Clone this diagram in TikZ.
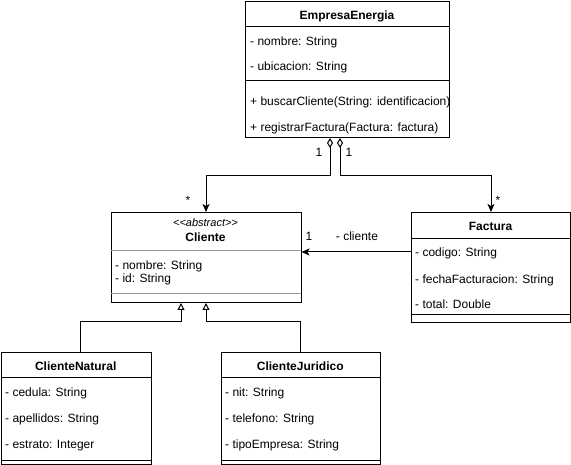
\documentclass[tikz,border=0pt]{standalone}
\usepackage{fontspec}
\setmainfont{Liberation Sans}
\usetikzlibrary{arrows.meta,calc}
\begin{document}
\begin{tikzpicture}[x=1pt,y=-1pt,
  cls/.style={draw, line width=1pt, anchor=north west, inner sep=0pt},
  ttl/.style={font=\bfseries\fontsize{12}{14}\selectfont, inner sep=0pt, text height=13.9pt, text depth=2.5pt},
  attr/.style={anchor=west, inner sep=0pt, font=\fontsize{12}{14}\selectfont, text height=13.9pt, text depth=2.5pt},
  lbl/.style={font=\fontsize{12}{14}\selectfont, inner sep=0pt, text height=13.9pt, text depth=2.5pt},
  sepline/.style={line width=1pt},
  graysep/.style={line width=1pt, draw=black!40},
  agg/.style={line width=1pt, {Diamond[open,length=10pt,width=6pt]}-{Stealth[length=8pt,width=7pt,inset=2pt]}},
  assoc/.style={line width=1pt, -{Stealth[length=8pt,width=7pt,inset=2pt]}},
  gen/.style={line width=1pt, -{Triangle[open,length=7pt,width=7pt]}}
]
\useasboundingbox (0,0) rectangle (571,465);

% EmpresaEnergia
\node[cls, minimum width=204pt, minimum height=136pt] (emp) at (245,1) {};
\draw[sepline] (245,27) -- (449,27);
\draw[sepline] (245,81) -- (449,81);
\node[ttl] (empt) at (347,14) {EmpresaEnergia};
\node[attr] (e1) at (250,40) {- nombre: String};
\node[attr] (e2) at (250,64.5) {- ubicacion: String};
\node[attr] (e3) at (250,100) {+ buscarCliente(String: identificacion)};
\node[attr] (e4) at (250,126) {+ registrarFactura(Factura: factura)};

% Cliente
\node[cls, minimum width=190pt, minimum height=90pt] (cliente) at (110.5,212) {};
\draw[graysep] (110.5,251) -- (300.5,251);
\draw[graysep] (110.5,293.5) -- (300.5,293.5);
\node[lbl, font=\itshape\fontsize{11}{13}\selectfont] (abs) at (205.5,221) {<{}<abstract>{}>};
\node[ttl] (clt) at (205.5,236) {Cliente};
\node[attr] (c1) at (115,264) {- nombre: String};
\node[attr] (c2) at (115,277) {- id: String};

% Factura
\node[cls, minimum width=159pt, minimum height=110.5pt] (factura) at (411,212) {};
\draw[sepline] (411,239) -- (570,239);
\draw[sepline] (411,315) -- (570,315);
\node[ttl] (ft) at (490.5,225) {Factura};
\node[attr] (f1) at (415,251) {- codigo: String};
\node[attr] (f2) at (415,277.5) {- fechaFacturacion: String};
\node[attr] (f3) at (415,302.5) {- total: Double};

% ClienteNatural
\node[cls, minimum width=149.5pt, minimum height=112pt] (natural) at (1,352) {};
\draw[sepline] (1,378) -- (150.5,378);
\draw[sepline] (1,460.5) -- (150.5,460.5);
\node[ttl] (nt) at (75.75,365) {ClienteNatural};
\node[attr] (n1) at (5,391) {- cedula: String};
\node[attr] (n2) at (5,417) {- apellidos: String};
\node[attr] (n3) at (5,443) {- estrato: Integer};

% ClienteJuridico
\node[cls, minimum width=159.5pt, minimum height=112pt] (juridico) at (220.5,352) {};
\draw[sepline] (220.5,378) -- (380,378);
\draw[sepline] (220.5,460.5) -- (380,460.5);
\node[ttl] (jt) at (300.25,365) {ClienteJuridico};
\node[attr] (j1) at (225,391) {- nit: String};
\node[attr] (j2) at (225,417) {- telefono: String};
\node[attr] (j3) at (225,443) {- tipoEmpresa: String};

% Aggregations
\draw[agg] ([xshift=-17.5pt]emp.south) -- ++(0,38) -| (cliente.north);
\draw[agg] ([xshift=-7.5pt]emp.south) -- ++(0,38) -| (factura.north);
\node[lbl] (m1) at (319,151) {1};
\node[lbl] (m2) at (349,151) {1};
\node[lbl] (m3) at (188,199) {*};
\node[lbl] (m4) at (498,199) {*};

% Association
\coordinate (fa) at ([yshift=-40pt]factura.north west);
\draw[assoc] (fa) -- (fa -| cliente.east);
\node[lbl] (a1) at (309,235) {1};
\node[lbl] (a2) at (357,235) {- cliente};

% Generalizations
\draw[gen] ([xshift=4.5pt]natural.north) -- ++(0,-30) -| ([xshift=-25pt]cliente.south);
\draw[gen] (juridico.north) -- ++(0,-30) -| (cliente.south);
\end{tikzpicture}
\end{document}
